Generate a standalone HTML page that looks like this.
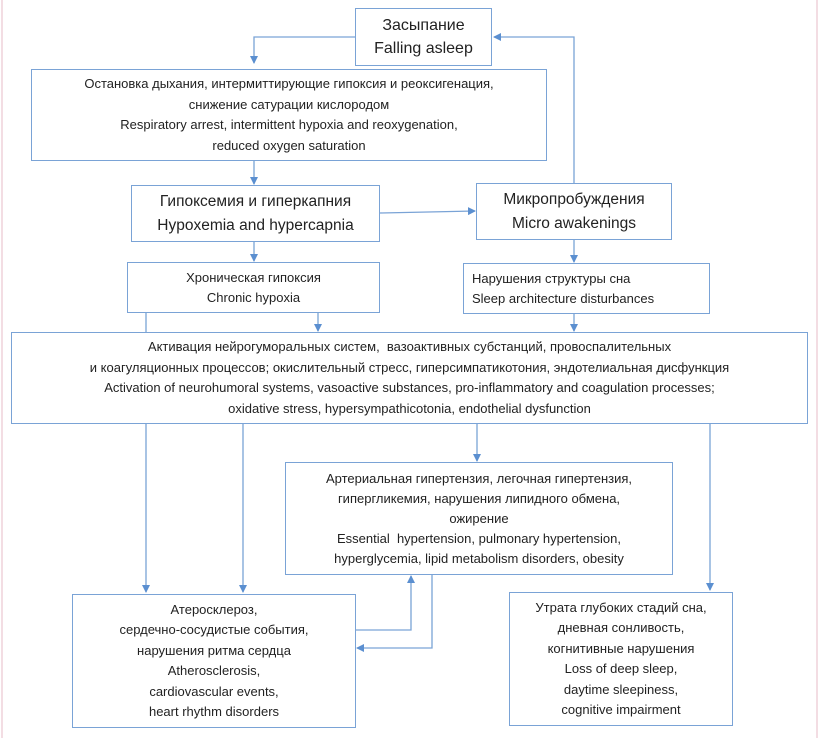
<!DOCTYPE html>
<html><head><meta charset="utf-8"><style>
body{margin:0;width:820px;height:738px;background:#fff;position:relative;overflow:hidden;font-family:"Liberation Sans",sans-serif;color:#222}
.b{position:absolute;border:1.5px solid #7aa3d6;box-sizing:border-box;display:flex;flex-direction:column;justify-content:center;align-items:center;text-align:center;font-size:13px;line-height:20px;background:#fff}
svg{position:absolute;left:0;top:0}
</style></head><body>
<div style="position:absolute;left:1px;top:0;width:2px;height:738px;background:#f3dde3"></div>
<div style="position:absolute;left:816px;top:0;width:2px;height:738px;background:#f3dde3"></div>
<svg width="820" height="738" viewBox="0 0 820 738">
<defs><marker id="a" markerWidth="8" markerHeight="8" refX="7" refY="4" orient="auto" markerUnits="userSpaceOnUse"><path d="M0,0 L8,4 L0,8z" fill="#5b8fd0"/></marker></defs>
<g stroke="#7aa3d6" stroke-width="1.3" fill="none">
<polyline points="355,37 254,37 254,63" marker-end="url(#a)"/>
<line x1="254" y1="161" x2="254" y2="184" marker-end="url(#a)"/>
<line x1="380" y1="213" x2="475" y2="211" marker-end="url(#a)"/>
<polyline points="574,183 574,37 494,37" marker-end="url(#a)"/>
<line x1="254" y1="242" x2="254" y2="261" marker-end="url(#a)"/>
<line x1="574" y1="240" x2="574" y2="262" marker-end="url(#a)"/>
<line x1="146" y1="313" x2="146" y2="332"/>
<line x1="318" y1="313" x2="318" y2="331" marker-end="url(#a)"/>
<line x1="574" y1="314" x2="574" y2="331" marker-end="url(#a)"/>
<line x1="146" y1="424" x2="146" y2="592" marker-end="url(#a)"/>
<line x1="243" y1="424" x2="243" y2="592" marker-end="url(#a)"/>
<line x1="477" y1="424" x2="477" y2="461" marker-end="url(#a)"/>
<line x1="710" y1="424" x2="710" y2="590" marker-end="url(#a)"/>
<polyline points="356,630 411,630 411,576" marker-end="url(#a)"/>
<polyline points="432,575 432,648 357,648" marker-end="url(#a)"/>
</g></svg>
<div class="b" style="left:355px;top:8px;width:137px;height:58px;font-size:16px;line-height:23px">Засыпание<br>Falling asleep</div>
<div class="b" style="left:31px;top:69px;width:516px;height:92px;line-height:20.5px">Остановка дыхания, интермиттирующие гипоксия и реоксигенация,<br>снижение сатурации кислородом<br>Respiratory arrest, intermittent hypoxia and reoxygenation,<br>reduced oxygen saturation</div>
<div class="b" style="left:131px;top:185px;width:249px;height:57px;font-size:15.5px;line-height:24px">Гипоксемия и гиперкапния<br>Hypoxemia and hypercapnia</div>
<div class="b" style="left:476px;top:183px;width:196px;height:57px;font-size:15.5px;line-height:24px">Микропробуждения<br>Micro awakenings</div>
<div class="b" style="left:127px;top:262px;width:253px;height:51px">Хроническая гипоксия<br>Chronic hypoxia</div>
<div class="b" style="left:463px;top:263px;width:247px;height:51px;align-items:flex-start;text-align:left;padding-left:8px">Нарушения структуры сна<br>Sleep architecture disturbances</div>
<div class="b" style="left:11px;top:332px;width:797px;height:92px;line-height:20.5px;font-size:13px">Активация нейрогуморальных систем,&nbsp; вазоактивных субстанций, провоспалительных<br>и коагуляционных процессов; окислительный стресс, гиперсимпатикотония, эндотелиальная дисфункция<br>Activation of neurohumoral systems, vasoactive substances, pro-inflammatory and coagulation processes;<br>oxidative stress, hypersympathicotonia, endothelial dysfunction</div>
<div class="b" style="left:285px;top:462px;width:388px;height:113px;line-height:20px">Артериальная гипертензия, легочная гипертензия,<br>гипергликемия, нарушения липидного обмена,<br>ожирение<br>Essential&nbsp; hypertension, pulmonary hypertension,<br>hyperglycemia, lipid metabolism disorders, obesity</div>
<div class="b" style="left:72px;top:594px;width:284px;height:134px;line-height:20.5px">Атеросклероз,<br>сердечно-сосудистые события,<br>нарушения ритма сердца<br>Atherosclerosis,<br>cardiovascular events,<br>heart rhythm disorders</div>
<div class="b" style="left:509px;top:592px;width:224px;height:134px;line-height:20.5px">Утрата глубоких стадий сна,<br>дневная сонливость,<br>когнитивные нарушения<br>Loss of deep sleep,<br>daytime sleepiness,<br>cognitive impairment</div>
</body></html>
